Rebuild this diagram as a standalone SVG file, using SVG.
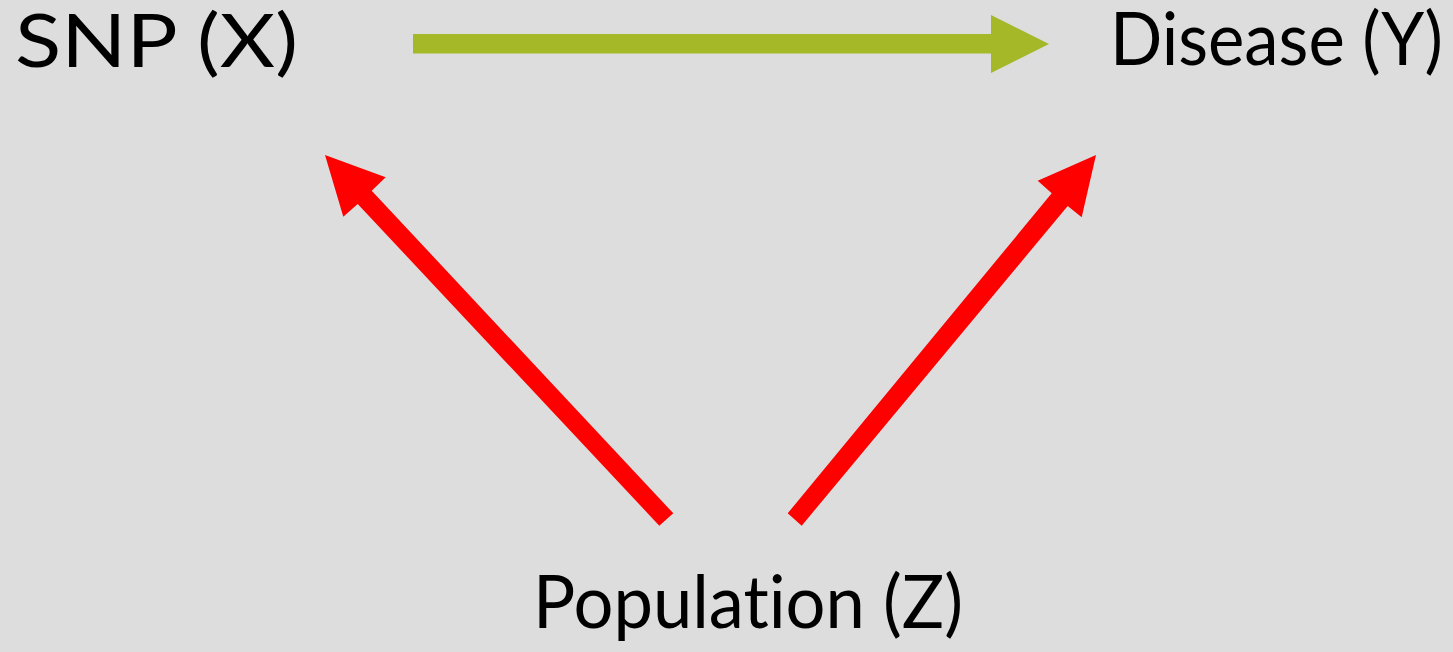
<svg xmlns="http://www.w3.org/2000/svg" width="1453" height="652" viewBox="0 0 1453 652">
<style>
.lbl{font-family:"Lato","Open Sans","Liberation Sans",sans-serif;font-size:73px;fill:#000;font-variant-ligatures:none;font-feature-settings:"liga" 0,"clig" 0,"dlig" 0}
.red{fill:#FF0000}
.green{fill:#A5B828}
</style>
<rect width="1453" height="652" fill="#DDDDDD"/>
<g id="connectors">
<polygon class="green" points="413,34 991,34 991,15 1049,44 991,73 991,53.5 413,53.5"/>
<polygon class="red" points="673.3,513.3 371.7,190.7 385.7,177.3 325,155 343.3,216.7 357.7,204 659.3,525.7"/>
<polygon class="red" points="787.7,513.3 1051.7,193.3 1037.7,180.7 1096,155 1081.7,217.3 1067.7,206 801.7,525.7"/>
</g>
<g id="node-snp"><text class="lbl" x="15" y="67" textLength="283" lengthAdjust="spacingAndGlyphs">SNP (X)</text></g>
<g id="node-disease"><text class="lbl" x="1110" y="65" textLength="333" lengthAdjust="spacingAndGlyphs">Disease (Y)</text></g>
<g id="node-population"><text class="lbl" x="533" y="628" textLength="430" lengthAdjust="spacingAndGlyphs">Populat<tspan fill="#010101">ion (Z)</tspan></text></g>
</svg>
